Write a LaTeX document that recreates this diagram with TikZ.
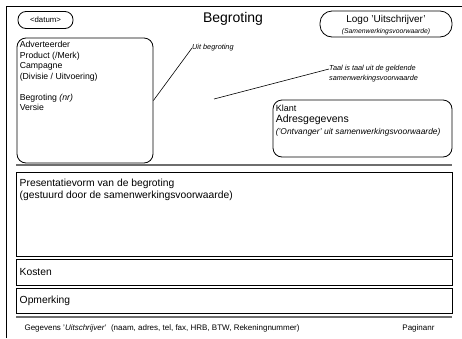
\documentclass[tikz,border=0pt]{standalone}
\usepackage{fontspec}
\setmainfont{Liberation Sans}
\usepackage{tikz}
\usetikzlibrary{positioning, calc}
\definecolor{inkdark}{HTML}{000000}
\definecolor{rulegray}{HTML}{6E6E6E}
\tikzset{
  pill/.style={draw=inkdark, line width=0.8pt, rounded corners=#1, inner sep=0pt},
  pill/.default=8pt,
  panel/.style={draw=inkdark, line width=0.8pt, rounded corners=9pt, inner sep=0pt},
  block/.style={draw=inkdark, line width=0.9pt, inner sep=0pt},
  txt/.style={font=\fontsize{8.7}{10.5}\selectfont, text=inkdark, align=left, inner sep=0pt, anchor=north west},
  bodytxt/.style={font=\fontsize{10.3}{12.5}\selectfont, text=inkdark, align=left, inner sep=0pt},
  note/.style={font=\fontsize{7.3}{9}\selectfont\itshape, text=inkdark, inner sep=0pt, anchor=west},
  sep/.style={draw=rulegray, line width=1.2pt},
  link/.style={draw=inkdark, line width=0.6pt},
}
\begin{document}
\begin{tikzpicture}[x=1pt, y=-1pt]
  \useasboundingbox (0,0) rectangle (462,338);
  % page frame
  \draw[line width=0.8pt] (6,338) -- (6,6) -- (462,6);
  % header
  \node[pill, minimum width=55pt, minimum height=17pt] (datum) at (45.5,20) {};
  \node[font=\fontsize{7.8}{8}\selectfont] at (datum.center) {<datum>};
  \node[font=\fontsize{14}{16}\selectfont] (titel) at (233,19) {Begroting};
  \node[pill=12pt, minimum width=132pt, minimum height=26pt] (logo) at (386,24) {};
  \node[font=\fontsize{10}{11}\selectfont] at ([yshift=-9.5pt]logo.north) {Logo 'Uitschrijver'};
  \node[font=\fontsize{6.8}{7}\selectfont\itshape] at ([yshift=6pt]logo.south) {(Samenwerkingsvoorwaarde)};
  % left info panel
  \node[panel, minimum width=136pt, minimum height=125pt] (info) at (85,100.5) {};
  \node[txt] (infotxt) at ([shift={(3pt,-3.5pt)}]info.north west)
    {Adverteerder\\Product (/Merk)\\Campagne\\(Divisie / Uitvoering)\\[10.5pt]Begroting \textit{(nr)}\\Versie};
  % notes
  \node[note] (uit) at (192,48) {Uit begroting};
  \draw[link] (info.east) -- (uit.west);
  \coordinate (taalvan) at (214,99);
  \node[note] (taal) at (329,69) {Taal is taal uit de geldende};
  \node[note, below=2.5pt of taal.south west, anchor=north west] (taal2) {samenwerkingsvoorwaarde};
  \draw[link] (taalvan) -- (taal.west);
  % client panel
  \node[panel, minimum width=179pt, minimum height=57pt] (klant) at (362.5,128.5) {};
  \node[txt, anchor=west, font=\fontsize{9}{11}\selectfont] (klanttxt) at ([shift={(3pt,-8.5pt)}]klant.north west) {Klant};
  \node[txt, anchor=west, font=\fontsize{10.5}{12}\selectfont] (adres) at ([shift={(3pt,-20.5pt)}]klant.north west) {Adresgegevens};
  \node[txt, anchor=west, font=\fontsize{8.4}{10}\selectfont\itshape] (ontv) at ([shift={(3pt,-32.5pt)}]klant.north west) {('Ontvanger' uit samenwerkingsvoorwaarde)};
  % body
  \draw[sep] (16,165) -- (452,165);
  \node[block, minimum width=436pt, minimum height=84pt] (pres) at (234,214) {};
  \node[bodytxt, anchor=north west] at ([shift={(4pt,-7pt)}]pres.north west)
    {Presentatievorm van de begroting\\(gestuurd door de samenwerkingsvoorwaarde)};
  \node[block, minimum width=436pt, minimum height=26pt] (kosten) at (234,272) {};
  \node[bodytxt, anchor=west] at ([xshift=4pt]kosten.west) {Kosten};
  \node[block, minimum width=436pt, minimum height=25pt] (opm) at (234,300.5) {};
  \node[bodytxt, anchor=west] at ([xshift=4pt]opm.west) {Opmerking};
  % footer
  \draw[sep] (16,317) -- (452,317);
  \node[font=\fontsize{8}{9}\selectfont, anchor=west] (gegevens) at (21,328)
    {Gegevens '\textit{Uitschrijver}'\ \ (naam, adres, tel, fax, HRB, BTW, Rekeningnummer)};
  \node[font=\fontsize{8}{9}\selectfont, anchor=east] (pagina) at (438,328) {Paginanr};
\end{tikzpicture}
\end{document}
